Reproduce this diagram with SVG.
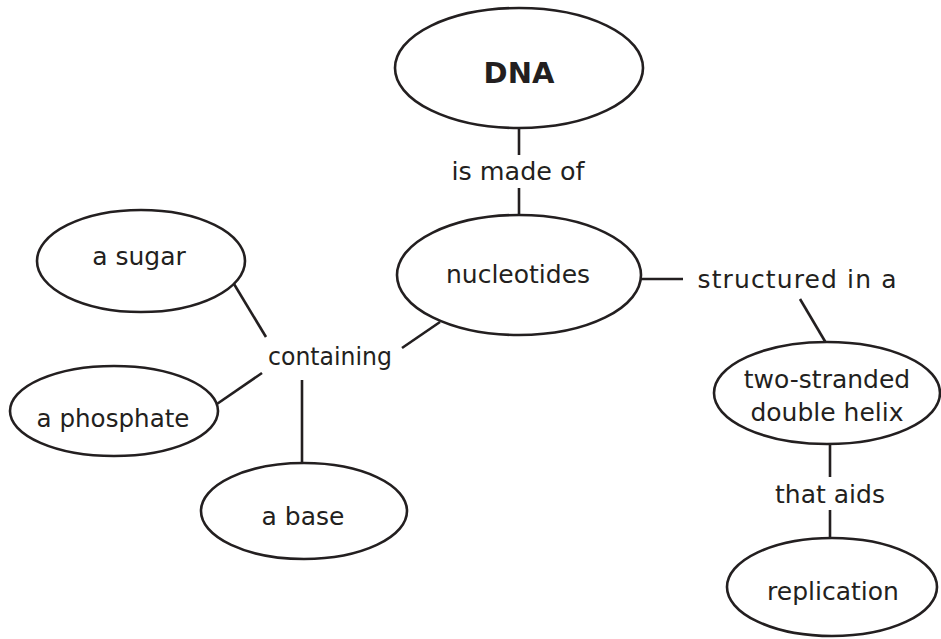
<svg xmlns="http://www.w3.org/2000/svg" width="941" height="639" viewBox="0 0 941 639">
<style>
.n ellipse{fill:#fff;stroke:#231f20;stroke-width:2.6}
text{font-family:"DejaVu Sans","Liberation Sans",sans-serif;font-size:25px;fill:#231f20;text-anchor:middle}
.b{font-weight:bold;font-size:29px}
#connectors line{stroke:#231f20;stroke-width:2.6;fill:none}
</style>
<rect width="941" height="639" fill="#fff"/>
<g id="connectors">
<line x1="519" y1="128" x2="519" y2="155"/>
<line x1="519" y1="188" x2="519" y2="215"/>
<line x1="234" y1="284" x2="266" y2="337"/>
<line x1="402" y1="348" x2="440" y2="322"/>
<line x1="262" y1="373" x2="214" y2="406"/>
<line x1="302" y1="380" x2="302" y2="463"/>
<line x1="641" y1="279" x2="683" y2="279"/>
<line x1="800" y1="299" x2="826" y2="343"/>
<line x1="830" y1="445" x2="830" y2="477"/>
<line x1="830" y1="510" x2="830" y2="538"/>
</g>
<g id="labels">
<text x="518" y="180" textLength="133" lengthAdjust="spacingAndGlyphs">is made of</text>
<text x="330" y="365" textLength="124" lengthAdjust="spacingAndGlyphs">containing</text>
<text x="797" y="288" textLength="199" lengthAdjust="spacing">structured in a</text>
<text x="830" y="503">that aids</text>
</g>
<g id="dna" class="n"><ellipse cx="519" cy="68" rx="124" ry="60"/><text class="b" x="519" y="83">DNA</text></g>
<g id="nucleotides" class="n"><ellipse cx="519" cy="275" rx="122" ry="60"/><text x="518" y="283">nucleotides</text></g>
<g id="sugar" class="n"><ellipse cx="141" cy="261" rx="104" ry="51"/><text x="139" y="265">a sugar</text></g>
<g id="phosphate" class="n"><ellipse cx="114" cy="411" rx="104" ry="45"/><text x="113" y="427" textLength="153" lengthAdjust="spacingAndGlyphs">a phosphate</text></g>
<g id="base" class="n"><ellipse cx="304" cy="511" rx="103" ry="48"/><text x="303" y="525">a base</text></g>
<g id="helix" class="n"><ellipse cx="827" cy="393" rx="113" ry="51"/><text x="827" y="388">two-stranded</text><text x="827" y="421">double helix</text></g>
<g id="replication" class="n"><ellipse cx="832" cy="587" rx="105" ry="49"/><text x="833" y="600">replication</text></g>
</svg>
